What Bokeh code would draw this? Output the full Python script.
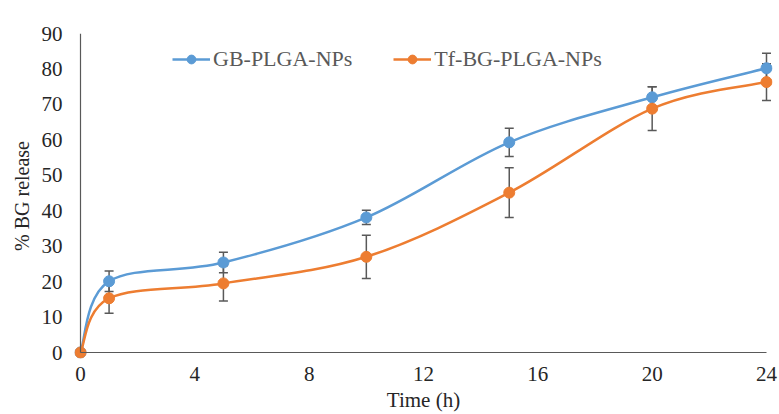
from bokeh.plotting import figure
from bokeh.models import (Range1d, FixedTicker, Legend, LegendItem, ColumnDataSource, Whisker,
                          TeeHead, LinearAxis)
from bokeh.embed import file_html
from bokeh.resources import INLINE

# ---- data ----
time_h = [0, 1, 5, 10, 15, 20, 24]
gb_release = [0, 20.1, 25.4, 38.1, 59.3, 72.0, 80.2]
gb_err = [0, 2.9, 2.9, 2.0, 4.0, 3.0, 4.2]
tf_release = [0, 15.3, 19.5, 27.0, 45.1, 68.8, 76.3]
tf_err = [0, 4.2, 5.0, 6.1, 7.0, 6.2, 5.2]
x_ticks = [0, 4, 8, 12, 16, 20, 24]
y_ticks = [0, 10, 20, 30, 40, 50, 60, 70, 80, 90]
series_names = ["GB-PLGA-NPs", "Tf-BG-PLGA-NPs"]
BLUE = "#5B9BD5"
ORANGE = "#ED7D31"
FONT = "Liberation Serif"

W, H = 779, 414
p = figure(width=W, height=H, output_backend="svg", toolbar_location=None,
           x_range=Range1d(-0.21, 24.21), y_range=Range1d(-1.69, 90),
           min_border_left=74, min_border_right=7, min_border_top=33, min_border_bottom=56)
p.grid.visible = False
p.outline_line_color = None
p.background_fill_color = "white"
p.border_fill_color = "white"

# label-carrying axes (at frame edges, no lines)
for ax in (p.xaxis[0], p.yaxis[0]):
    ax.major_tick_line_color = None
    ax.minor_tick_line_color = None
    ax.major_tick_out = 0
    ax.major_tick_in = 0
    ax.axis_line_color = None
    ax.major_label_text_font = FONT
    ax.major_label_text_font_size = "21px"
    ax.major_label_text_color = "#262626"
    ax.axis_label_text_font = FONT
    ax.axis_label_text_font_style = "normal"
    ax.axis_label_text_color = "#262626"

p.xaxis[0].ticker = FixedTicker(ticks=x_ticks)
p.xaxis[0].axis_label = "Time (h)"
p.xaxis[0].axis_label_text_font_size = "21px"
p.xaxis[0].major_label_standoff = 8
p.xaxis[0].axis_label_standoff = 4

p.yaxis[0].ticker = FixedTicker(ticks=y_ticks)
p.yaxis[0].axis_label = "% BG release"
p.yaxis[0].axis_label_text_font_size = "20px"
p.yaxis[0].major_label_standoff = 12
p.yaxis[0].axis_label_standoff = 6

# axis lines crossing at the origin
for side, ticks, bounds in (("below", x_ticks, (0, 24)), ("left", y_ticks, (0, 90))):
    la = LinearAxis(fixed_location=0, bounds=bounds, ticker=FixedTicker(ticks=ticks),
                    axis_line_color="#595959", axis_line_width=1.2,
                    major_tick_line_color=None, minor_tick_line_color=None,
                    major_label_text_alpha=0, major_label_text_font_size="1px")
    p.add_layout(la, side)


def bezier_source(xs, ys):
    n = len(xs)
    d = dict(x0=[], y0=[], x1=[], y1=[], cx0=[], cy0=[], cx1=[], cy1=[])
    for i in range(n - 1):
        i0 = max(i - 1, 0)
        i3 = min(i + 2, n - 1)
        d["x0"].append(xs[i]); d["y0"].append(ys[i])
        d["x1"].append(xs[i + 1]); d["y1"].append(ys[i + 1])
        d["cx0"].append(xs[i] + (xs[i + 1] - xs[i0]) / 6)
        d["cy0"].append(ys[i] + (ys[i + 1] - ys[i0]) / 6)
        d["cx1"].append(xs[i + 1] - (xs[i3] - xs[i]) / 6)
        d["cy1"].append(ys[i + 1] - (ys[i3] - ys[i]) / 6)
    return ColumnDataSource(d)


items = []
for name, vals, errs, col in [(series_names[0], gb_release, gb_err, BLUE),
                              (series_names[1], tf_release, tf_err, ORANGE)]:
    idx = [i for i, e in enumerate(errs) if e > 0]
    wsrc = ColumnDataSource(dict(
        x=[time_h[i] for i in idx],
        lower=[vals[i] - errs[i] for i in idx],
        upper=[vals[i] + errs[i] for i in idx]))
    wh = Whisker(base="x", lower="lower", upper="upper", source=wsrc, dimension="height",
                 line_color="#595959", line_width=1.5, level="underlay",
                 upper_head=TeeHead(size=9, line_color="#595959", line_width=1.5),
                 lower_head=TeeHead(size=9, line_color="#595959", line_width=1.5))
    p.add_layout(wh)
    bz = p.bezier(x0="x0", y0="y0", x1="x1", y1="y1", cx0="cx0", cy0="cy0", cx1="cx1", cy1="cy1",
                  source=bezier_source(time_h, vals), line_color=col, line_width=2.5)
    sc = p.scatter(time_h, vals, size=11, fill_color=col, line_color=col)
    items.append(LegendItem(label=name, renderers=[bz, sc]))

legend = Legend(items=items, orientation="horizontal", location=(98, 286),
                label_text_font=FONT, label_text_font_size="22px", label_text_color="#595959",
                glyph_width=38, glyph_height=22, label_height=22, label_standoff=3,
                spacing=41, padding=0, margin=0, border_line_color=None,
                background_fill_alpha=0)
p.add_layout(legend)

open("out.html", "w").write(file_html(p, INLINE))
